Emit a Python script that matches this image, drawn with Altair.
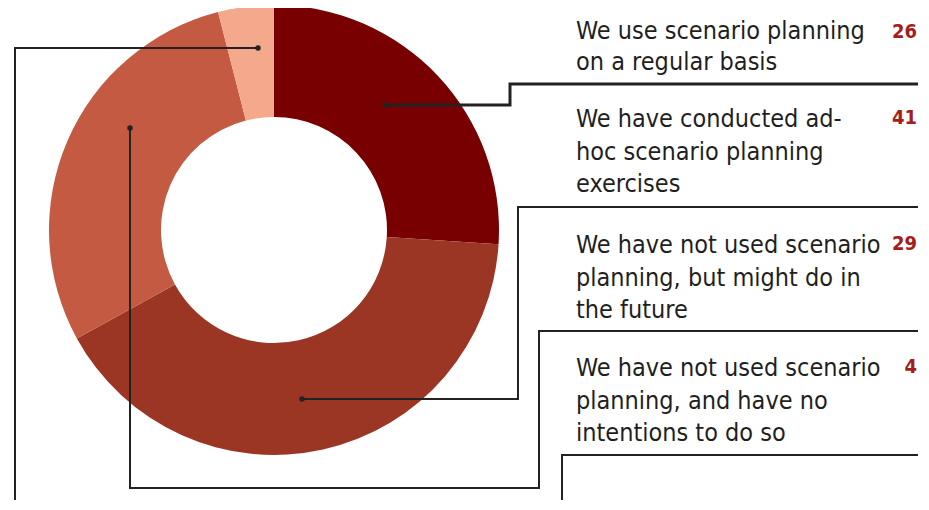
import altair as alt
import pandas as pd

# ---- data ----
categories = [
    "We use scenario planning on a regular basis",
    "We have conducted ad-hoc scenario planning exercises",
    "We have not used scenario planning, but might do in the future",
    "We have not used scenario planning, and have no intentions to do so",
]
values = [26, 41, 29, 4]
label_lines = [
    ["We use scenario planning", "on a regular basis"],
    ["We have conducted ad-", "hoc scenario planning", "exercises"],
    ["We have not used scenario", "planning,  but might do in", "the future"],
    ["We have not used scenario", "planning,  and have no", "intentions to do so"],
]
colors = ["#780000", "#9c3624", "#c45a42", "#f5a98c"]

# ---- layout (page pixels) ----
W, H = 910, 492
CX, CY, R_OUT, R_IN = 274, 230, 225, 113
label_x = 576
number_x = 917
first_baselines = [39, 127, 253, 376]
number_baselines = [38, 124, 250, 373]
line_gaps = [31, 32.5, 32.5, 32.5]
leaders = [
    [(385, 105), (510, 105), (510, 84), (918, 84)],
    [(302, 399), (518, 399), (518, 207), (918, 207)],
    [(130, 128), (130, 488), (539, 488), (539, 331), (918, 331)],
    [(258, 48), (15, 48), (15, 520), (562, 520), (562, 455), (918, 455)],
]
leader_widths = [3, 2, 2, 2]

arc_df = pd.DataFrame({"cat": categories, "value": values, "idx": range(len(values))})

txt_rows = []
for i, lines in enumerate(label_lines):
    for j, t in enumerate(lines):
        txt_rows.append({"x": label_x, "y": first_baselines[i] + j * line_gaps[i], "t": t})
txt_df = pd.DataFrame(txt_rows)

num_df = pd.DataFrame({"x": [number_x] * 4, "y": number_baselines, "t": [str(v) for v in values]})

line_rows = []
dot_rows = []
for i, pts in enumerate(leaders):
    for k, (px, py) in enumerate(pts):
        line_rows.append({"id": i, "k": k, "x": px, "y": py, "w": leader_widths[i]})
    dot_rows.append({"x": pts[0][0], "y": pts[0][1]})
line_df = pd.DataFrame(line_rows)
dot_df = pd.DataFrame(dot_rows)

xs = alt.Scale(domain=[8, 8 + W], nice=False, zero=False)
ys = alt.Scale(domain=[8, 8 + H], nice=False, zero=False, reverse=True)

arc = alt.Chart(arc_df).mark_arc(
    radius=R_OUT, radius2=R_IN, x=CX - 8, y=CY - 8, stroke=None
).encode(
    theta=alt.Theta("value:Q", stack=True),
    order=alt.Order("idx:Q"),
    color=alt.Color("cat:N", scale=alt.Scale(domain=categories, range=colors), legend=None),
)

lines = alt.Chart(line_df).mark_line(color="#222222", clip=True).encode(
    x=alt.X("x:Q", scale=xs, axis=None),
    y=alt.Y("y:Q", scale=ys, axis=None),
    detail="id:N",
    order="k:Q",
    strokeWidth=alt.StrokeWidth("w:Q", scale=None, legend=None),
)

dots = alt.Chart(dot_df).mark_circle(color="#222222", size=30, opacity=1).encode(
    x=alt.X("x:Q", scale=xs, axis=None),
    y=alt.Y("y:Q", scale=ys, axis=None),
)

texts = alt.Chart(txt_df).mark_text(
    align="left", baseline="alphabetic", font="DejaVu Sans Condensed", fontSize=25, color="#1f1f1f"
).encode(
    x=alt.X("x:Q", scale=xs, axis=None),
    y=alt.Y("y:Q", scale=ys, axis=None),
    text="t:N",
)

nums = alt.Chart(num_df).mark_text(
    align="right", baseline="alphabetic", font="DejaVu Sans Condensed", fontSize=20, fontWeight="bold",
    color="#a51c1c"
).encode(
    x=alt.X("x:Q", scale=xs, axis=None),
    y=alt.Y("y:Q", scale=ys, axis=None),
    text="t:N",
)

chart = alt.layer(arc, lines, dots, texts, nums).properties(
    width=W, height=H, padding=0, autosize=alt.AutoSizeParams(type="none")
).configure_view(stroke=None)

chart.save("out.html", embed_options={"renderer": "svg", "actions": False})
